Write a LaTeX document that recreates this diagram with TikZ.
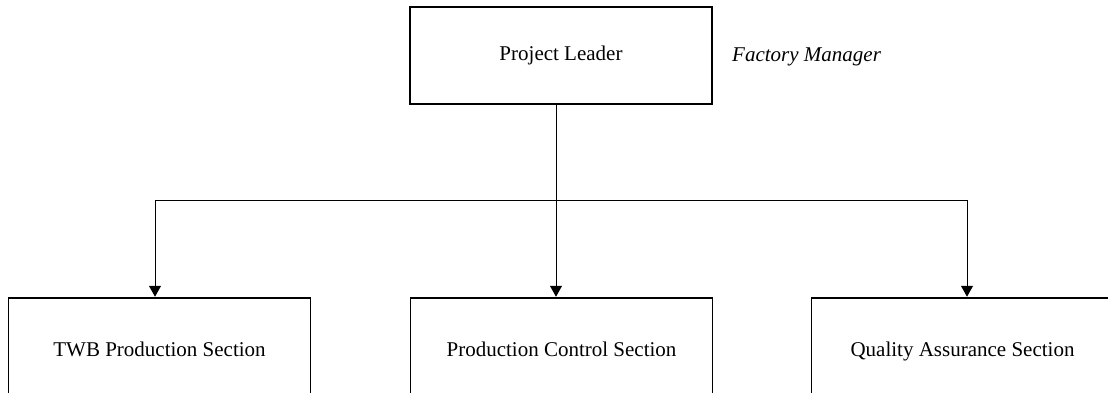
\documentclass[tikz,border=0pt]{standalone}
\usepackage{fontspec}
\setmainfont{Liberation Serif}
\usetikzlibrary{arrows.meta}
\begin{document}
\begin{tikzpicture}[x=1pt,y=-1pt,
  box/.style={draw, line width=1.5pt, minimum width=302pt, inner sep=0pt, text height=14pt, text depth=5pt, font=\fontsize{21}{25}\selectfont},
  lowbox/.style={box, minimum height=100pt, text height=21pt},
  conn/.style={line width=1pt},
  arr/.style={conn, -{Triangle[length=11pt,width=12pt]}, shorten >=0.5pt}]
\useasboundingbox (0,0) rectangle (1108,392);
\clip (0,0) rectangle (1108,392);
\node[box, minimum height=97pt] (top) at (561,55.5) {Project Leader};
\node[font=\itshape\fontsize{21}{25}\selectfont, anchor=west, inner sep=0pt] (fm) at (732,57) {Factory Manager};
\node[lowbox] (b1) at (159.5,348) {TWB Production Section};
\node[lowbox] (b2) at (561.5,348) {Production Control Section};
\node[lowbox] (b3) at (962.5,348) {Quality Assurance Section};
\coordinate (j) at (556,200);
\coordinate (lj) at (155,200);
\coordinate (rj) at (967,200);
\draw[conn] (top.south -| j) -- (j);
\draw[conn] (lj) -- (rj);
\draw[arr] (lj) -- (lj |- b1.north);
\draw[arr] (j) -- (j |- b2.north);
\draw[arr] (rj) -- (rj |- b3.north);
\end{tikzpicture}
\end{document}
